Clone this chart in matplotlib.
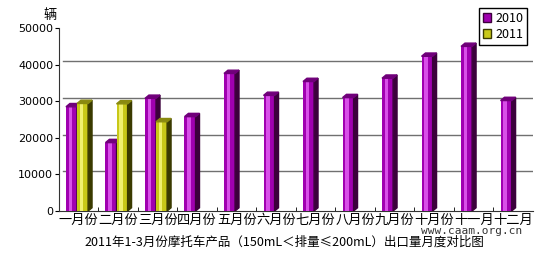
import matplotlib.pyplot as plt
from matplotlib.patches import Polygon, Patch

plt.rcParams['font.family'] = ['Noto Sans CJK SC', 'DejaVu Sans']

months = ['一月份', '二月份', '三月份', '四月份', '五月份', '六月份',
          '七月份', '八月份', '九月份', '十月份', '十一月', '十二月']
sales_2010 = [28500, 18700, 30800, 25800, 37600, 31600,
              35400, 31000, 36300, 42300, 45000, 30200]
sales_2011 = [29400, 29300, 24400]
yticks = [0, 10000, 20000, 30000, 40000, 50000]
title = '2011年1-3月份摩托车产品（150mL＜排量≤200mL）出口量月度对比图'

fig = plt.figure(figsize=(5.5, 2.58), dpi=100)
ax = fig.add_axes([0.107, 0.182, 0.862, 0.709])

w = 0.28      # front face width
dx = 0.10     # depth in x (category units)
dy = 900      # depth in y (data units)


def bar3d(x0, h, front, light, side, top):
    # front face with a light stripe, then side and top faces
    ax.bar(x0, h, width=w, align='edge', color=front, zorder=3)
    ax.bar(x0 + w * 0.25, h, width=w * 0.3, align='edge', color=light, zorder=3)
    ax.add_patch(Polygon([(x0 + w, 0), (x0 + w + dx, dy), (x0 + w + dx, h + dy), (x0 + w, h)],
                         closed=True, color=side, zorder=3))
    ax.add_patch(Polygon([(x0, h), (x0 + dx, h + dy), (x0 + w + dx, h + dy), (x0 + w, h)],
                         closed=True, color=top, zorder=3))


for i, v in enumerate(sales_2010):
    bar3d(i - 0.32, v, '#a000b0', '#d850e8', '#3c003c', '#70007a')
for i, v in enumerate(sales_2011):
    bar3d(i - 0.04, v, '#c8c818', '#f0f070', '#3a3a00', '#8a8a10')

# grid lines on the back wall
for t in yticks[1:-1]:
    ax.plot([-0.5 + dx, 11.5], [t + dy, t + dy], color='#707070', lw=1.0, zorder=1)

ax.set_xlim(-0.5, 11.5)
ax.set_ylim(0, 50000)
ax.set_yticks(yticks)
ax.set_yticklabels([str(t) for t in yticks], fontsize=8, family='DejaVu Sans')
ax.set_xticks(range(12))
ax.set_xticklabels(months, fontsize=9.5)
ax.set_xticks([i + 0.5 for i in range(11)], minor=True)
ax.tick_params(axis='x', which='major', length=0, pad=2)
ax.tick_params(axis='x', which='minor', length=3, direction='in')
ax.tick_params(axis='y', length=3, direction='out', pad=1)
for s in ['top', 'right']:
    ax.spines[s].set_visible(False)
ax.spines['left'].set_color('#333333')
ax.spines['bottom'].set_color('#333333')

fig.text(50 / 550, 1 - 15 / 258, '辆', fontsize=9.5, ha='center', va='center')
fig.text(284 / 550, 1 - 242 / 258, title, fontsize=9, ha='center', va='center')
fig.text(472 / 550, 1 - 231 / 258, 'www.caam.org.cn', fontsize=8, ha='center', va='center',
         family='DejaVu Sans Mono', color='#333333')

handles = [Patch(facecolor='#a000b0', edgecolor='#3c003c'),
           Patch(facecolor='#c8c818', edgecolor='#3a3a00')]
fig.legend(handles, ['2010', '2011'], loc='upper right',
           bbox_to_anchor=(533 / 550, 1 - 2 / 258), fontsize=9,
           fancybox=False, edgecolor='black', framealpha=1,
           handlelength=0.7, handleheight=0.7, handletextpad=0.3,
           borderpad=0.3, labelspacing=0.25)

fig.savefig('out.png', dpi=100)
